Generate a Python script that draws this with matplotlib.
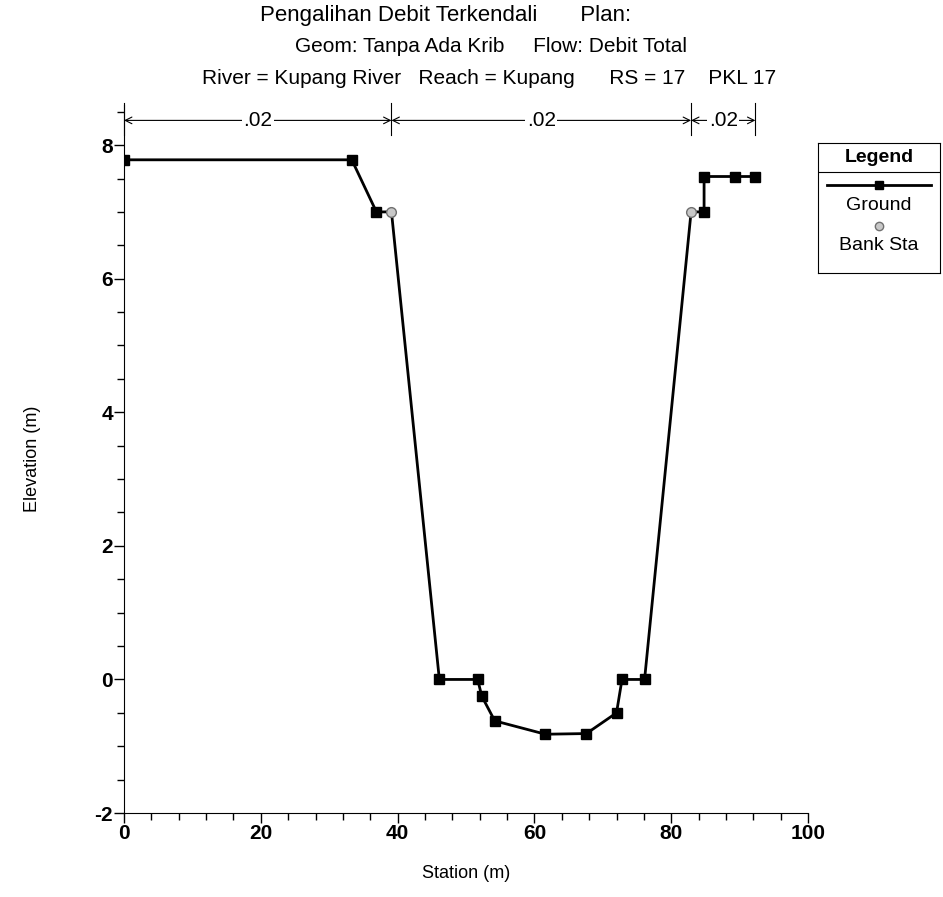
import matplotlib
matplotlib.use("Agg")
import matplotlib.pyplot as plt
from matplotlib.lines import Line2D
from matplotlib.ticker import MultipleLocator

plt.rcParams['font.family'] = ['Liberation Sans', 'DejaVu Sans']
plt.rcParams['axes.unicode_minus'] = False

# ground profile
station = [0, 33.3, 36.9, 46.1, 51.7, 52.3, 54.2, 61.6, 67.6, 72.0, 72.8, 76.1, 84.8, 84.8, 89.3, 92.3]
elev = [7.78, 7.78, 7.0, 0.0, 0.0, -0.25, -0.62, -0.82, -0.81, -0.5, 0.0, 0.0, 7.0, 7.53, 7.53, 7.53]
# bank stations (line passes through them)
bank_sta = [39.1, 82.9]
bank_elev = [7.0, 7.0]
# manning n breaks
n_breaks = [0, 39.1, 82.9, 92.3]
n_values = ['.02', '.02', '.02']

# merge banks into the ground line in order
pts = sorted(list(zip(station, elev)) + list(zip(bank_sta, bank_elev)), key=lambda p: p[0])
line_x = [p[0] for p in pts]
line_y = [p[1] for p in pts]
# keep the vertical step at 84.8 going up
i = line_x.index(84.8)
if line_y[i] > line_y[i + 1]:
    line_y[i], line_y[i + 1] = line_y[i + 1], line_y[i]

fig = plt.figure(figsize=(9.43, 8.97), dpi=100)
ax = fig.add_axes([0.1315, 0.0936, 0.7254, 0.7893])

ax.plot(line_x, line_y, color='black', lw=2.0, zorder=2)
ax.plot(station, elev, ls='none', marker='s', ms=7, color='black', zorder=3)
ax.plot(bank_sta, bank_elev, ls='none', marker='o', ms=7, mfc='#c8c8c8', mec='#707070', mew=1, zorder=4)

ax.set_xlim(0, 100)
ax.set_ylim(-2, 8.6)
ax.xaxis.set_major_locator(MultipleLocator(20))
ax.xaxis.set_minor_locator(MultipleLocator(4))
ax.yaxis.set_major_locator(MultipleLocator(2))
ax.yaxis.set_minor_locator(MultipleLocator(0.5))
ax.spines['top'].set_visible(False)
ax.spines['right'].set_visible(False)
ax.tick_params(which='major', length=7, width=1, labelsize=15, pad=1)
ax.tick_params(which='minor', length=5, width=1)
for lab in ax.get_xticklabels() + ax.get_yticklabels():
    lab.set_fontweight('bold')

ax.set_xlabel('Station (m)', fontsize=13, labelpad=16)
ax.set_ylabel('Elevation (m)', fontsize=13, labelpad=38)

# n value bars
for xb in n_breaks:
    ax.plot([xb, xb], [8.15, 8.63], color='black', lw=0.8, clip_on=False)
for j, nv in enumerate(n_values):
    x0, x1 = n_breaks[j], n_breaks[j + 1]
    ax.annotate('', xy=(x0, 8.37), xytext=(x1, 8.37),
                arrowprops=dict(arrowstyle='<->', lw=0.8, color='black',
                                shrinkA=0, shrinkB=0, mutation_scale=12),
                annotation_clip=False)
    ax.text((x0 + x1) / 2, 8.37, nv, ha='center', va='center', fontsize=15,
            bbox=dict(facecolor='white', edgecolor='none', pad=1))

# titles
fig.text(0.473, 1 - 15 / 897, 'Pengalihan Debit Terkendali       Plan:', ha='center', va='center', fontsize=16)
fig.text(0.521, 1 - 46 / 897, 'Geom: Tanpa Ada Krib     Flow: Debit Total', ha='center', va='center', fontsize=15)
fig.text(0.519, 1 - 79 / 897, 'River = Kupang River   Reach = Kupang      RS = 17    PKL 17',
         ha='center', va='center', fontsize=15)

# legend box
lg = fig.add_axes([818 / 943, 1 - 273 / 897, 122 / 943, 130 / 897])
lg.set_xlim(0, 1)
lg.set_ylim(0, 1)
lg.set_xticks([])
lg.set_yticks([])
for s in lg.spines.values():
    s.set_linewidth(0.8)
lg.axhline(1 - 29 / 130, color='black', lw=0.8)
lg.text(0.5, 1 - 14 / 130, 'Legend', ha='center', va='center', fontsize=14, fontweight='bold')
lg.add_line(Line2D([0.07, 0.93], [1 - 42 / 130] * 2, color='black', lw=2.0))
lg.plot([0.5], [1 - 42 / 130], marker='s', ms=6, color='black')
lg.text(0.5, 1 - 63 / 130, 'Ground', ha='center', va='center', fontsize=14)
lg.plot([0.5], [1 - 83 / 130], marker='o', ms=6, mfc='#c8c8c8', mec='#707070')
lg.text(0.5, 1 - 103 / 130, 'Bank Sta', ha='center', va='center', fontsize=14)

fig.savefig('out.png', dpi=100)
